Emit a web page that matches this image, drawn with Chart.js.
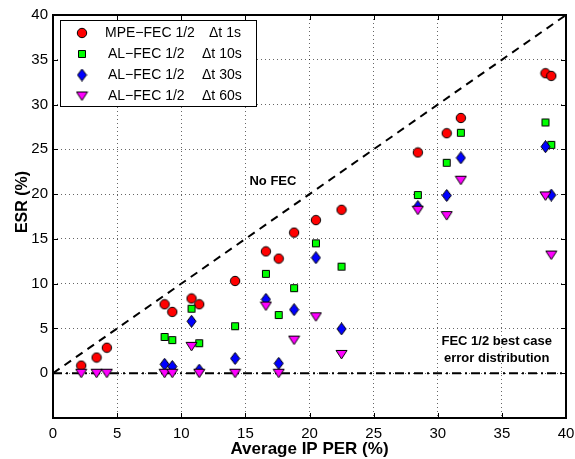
<!DOCTYPE html>
<html>
<head>
<meta charset="utf-8">
<script src="https://cdn.jsdelivr.net/npm/chart.js@4/dist/chart.umd.min.js"></script>
<style>
  html, body { margin: 0; padding: 0; background: #fff; }
</style>
</head>
<body>
<canvas id="esrchart" width="575" height="459"></canvas>
<script>
// average IP PER (%) of each measurement run
const perX = [2.2, 3.4, 4.2, 8.7, 9.3, 10.8, 11.4, 14.2, 16.6, 17.6, 18.8, 20.5, 22.5, 28.45, 30.7, 31.8, 38.4, 38.85];

// ESR (%) per scheme, null where the marker is hidden under another one
const mpeFec1s  = [0.85, 1.75, 2.85, 7.7, 6.85, 8.35, 7.7, 10.3, 13.6, 12.8, 15.7, 17.1, 18.25, 24.65, 26.8, 28.5, 33.5, 33.2];
const alFec10s  = [null, null, null, 4.05, 3.7, 7.2, 3.35, 5.25, 11.1, 6.5, 9.5, 14.5, 11.9, 19.9, 23.5, 26.85, 28.0, 25.5];
const alFec30s  = [null, null, null, 1.0, 0.75, 5.8, 0.35, 1.65, 8.25, 1.1, 7.1, 12.9, 4.95, 18.6, 19.85, 24.05, 25.3, 19.9];
const alFec60s  = [0, 0, 0, 0, 0, 3.0, 0, 0, 7.5, 0, 3.7, 6.3, 2.1, 18.2, 17.6, 21.55, 19.8, 13.2];

const seriesNames = ['MPE\u2212FEC 1/2', 'AL\u2212FEC 1/2', 'AL\u2212FEC 1/2', 'AL\u2212FEC 1/2'];
const seriesDelta = ['\u0394t 1s', '\u0394t 10s', '\u0394t 30s', '\u0394t 60s'];

const xTicks = [0, 5, 10, 15, 20, 25, 30, 35, 40];
const yTicks = [-5, 0, 5, 10, 15, 20, 25, 30, 35, 40];

const noFecLine = [[0, 0], [40, 40]];
const bestCaseLine = [[0, 0], [40, 0]];

const notes = [
  { text: 'No FEC', x: 17.15, y: 21.4 },
  { text: 'FEC 1/2 best case', x: 34.6, y: 3.5 },
  { text: 'error distribution', x: 34.6, y: 1.65 }
];

const FONT = '"Liberation Sans", Arial, Helvetica, sans-serif';

function marker(kind, fill) {
  const c = document.createElement('canvas');
  const g = c.getContext('2d');
  if (kind === 'circle') {
    c.width = 12; c.height = 12;
    g.beginPath(); g.arc(6, 6, 4.7, 0, Math.PI * 2);
  } else if (kind === 'square') {
    c.width = 10; c.height = 10;
    g.beginPath(); g.rect(1.5, 1.5, 7, 7);
  } else if (kind === 'diamond') {
    c.width = 11; c.height = 13;
    g.beginPath();
    g.moveTo(5.5, 0.5); g.lineTo(10, 6.5); g.lineTo(5.5, 12.5); g.lineTo(1, 6.5); g.closePath();
  } else {
    c.width = 13; c.height = 11;
    g.beginPath();
    g.moveTo(1, 1.5); g.lineTo(12, 1.5); g.lineTo(6.5, 10); g.closePath();
  }
  g.fillStyle = fill; g.fill();
  g.strokeStyle = '#000'; g.lineWidth = 1; g.stroke();
  return c;
}

const markers = [
  marker('circle', '#ff0000'),
  marker('square', '#00ff00'),
  marker('diamond', '#0000ff'),
  marker('triangle', '#ff00ff')
];

function pts(vals) {
  return perX.map((x, i) => ({ x: x, y: vals[i] })).filter(p => p.y !== null);
}

const frame = {
  id: 'frame',
  afterDatasetsDraw(chart) {
    const { ctx, chartArea: a, scales: { x, y } } = chart;
    ctx.save();
    ctx.strokeStyle = '#000';
    ctx.lineWidth = 1;
    ctx.beginPath();
    xTicks.forEach(v => {
      const px = Math.round(x.getPixelForValue(v)) + 0.5;
      ctx.moveTo(px, a.bottom); ctx.lineTo(px, a.bottom - 5);
      ctx.moveTo(px, a.top); ctx.lineTo(px, a.top + 5);
    });
    yTicks.forEach(v => {
      const py = Math.round(y.getPixelForValue(v)) + 0.5;
      ctx.moveTo(a.left, py); ctx.lineTo(a.left + 5, py);
      ctx.moveTo(a.right, py); ctx.lineTo(a.right - 5, py);
    });
    ctx.stroke();
    ctx.lineWidth = 2;
    ctx.strokeRect(a.left, a.top, a.right - a.left, a.bottom - a.top);

    // text notes
    ctx.fillStyle = '#000';
    ctx.font = 'bold 13px ' + FONT;
    ctx.textAlign = 'center';
    ctx.textBaseline = 'middle';
    notes.forEach(n => ctx.fillText(n.text, x.getPixelForValue(n.x), y.getPixelForValue(n.y)));

    // axis titles
    ctx.font = 'bold 17px ' + FONT;
    ctx.fillText('Average IP PER (%)', (a.left + a.right) / 2, 449);
    ctx.save();
    ctx.translate(23, 202);
    ctx.rotate(-Math.PI / 2);
    ctx.font = 'bold 16px ' + FONT;
    ctx.fillText('ESR (%)', 0, 0);
    ctx.restore();

    // legend
    const lx = a.left + 7, ly = a.top + 5, lw = 196, lh = 86;
    ctx.fillStyle = '#fff';
    ctx.fillRect(lx, ly, lw, lh);
    ctx.lineWidth = 1;
    ctx.strokeRect(lx + 0.5, ly + 0.5, lw, lh);
    ctx.font = '14px ' + FONT;
    ctx.textAlign = 'left';
    ctx.fillStyle = '#000';
    const nameX = [105, 108, 108, 108];
    const deltaX = [209, 202, 202, 202];
    for (let i = 0; i < 4; i++) {
      const ry = ly + 13 + i * 21;
      const m = markers[i];
      ctx.drawImage(m, lx + 22 - m.width / 2, ry - m.height / 2);
      ctx.fillText(seriesNames[i], nameX[i], ry);
      ctx.fillText(seriesDelta[i], deltaX[i], ry);
    }
    ctx.restore();
  }
};

new Chart(document.getElementById('esrchart'), {
  type: 'scatter',
  data: {
    datasets: [
      {
        label: 'No FEC',
        data: noFecLine.map(p => ({ x: p[0], y: p[1] })),
        showLine: true,
        borderColor: '#000',
        borderWidth: 2,
        borderDash: [8, 6],
        pointRadius: 0,
        order: 10
      },
      {
        label: 'FEC 1/2 best case',
        data: bestCaseLine.map(p => ({ x: p[0], y: p[1] })),
        showLine: true,
        borderColor: '#000',
        borderWidth: 2,
        borderDash: [9, 4, 2, 4],
        pointRadius: 0,
        order: 9
      },
      { label: seriesNames[0] + ' ' + seriesDelta[0], data: pts(mpeFec1s), pointStyle: markers[0], order: 4 },
      { label: seriesNames[1] + ' ' + seriesDelta[1], data: pts(alFec10s), pointStyle: markers[1], order: 3 },
      { label: seriesNames[2] + ' ' + seriesDelta[2], data: pts(alFec30s), pointStyle: markers[2], order: 2 },
      { label: seriesNames[3] + ' ' + seriesDelta[3], data: pts(alFec60s), pointStyle: markers[3], order: 1 }
    ]
  },
  options: {
    responsive: false,
    animation: false,
    layout: { padding: { left: 0, right: 9, top: 15, bottom: 0 } },
    plugins: {
      legend: { display: false },
      tooltip: { enabled: false }
    },
    scales: {
      x: {
        type: 'linear',
        min: 0,
        max: 40,
        afterBuildTicks: s => { s.ticks = xTicks.map(v => ({ value: v })); },
        afterFit: s => { s.height = 41; s.paddingLeft = 0; s.paddingRight = 0; },
        grid: { color: 'rgba(0,0,0,0.6)', lineWidth: 1, drawTicks: false, borderDash: [1, 3] },
        border: { display: false, dash: [1, 3] },
        ticks: { padding: 7, color: '#000', font: { family: FONT, size: 15 } }
      },
      y: {
        type: 'linear',
        min: -5,
        max: 40,
        afterBuildTicks: s => { s.ticks = yTicks.map(v => ({ value: v })); },
        afterFit: s => { s.width = 53; s.paddingTop = 0; s.paddingBottom = 0; },
        grid: { color: 'rgba(0,0,0,0.6)', lineWidth: 1, drawTicks: false, borderDash: [1, 3] },
        border: { display: false, dash: [1, 3] },
        ticks: {
          padding: 5,
          color: '#000',
          font: { family: FONT, size: 15 },
          callback: v => (v < 0 ? '' : v)
        }
      }
    }
  },
  plugins: [frame]
});
</script>
</body>
</html>
